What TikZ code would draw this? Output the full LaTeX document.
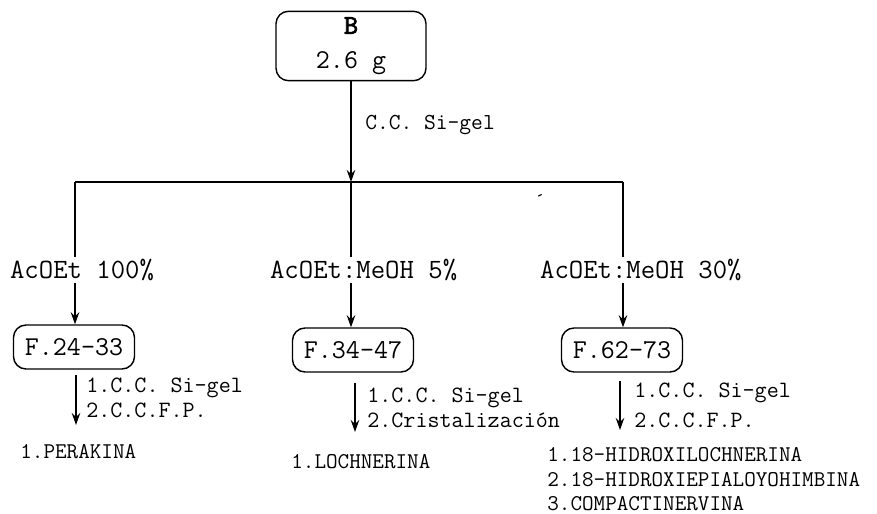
\documentclass[tikz,border=0pt]{standalone}
\usepackage{fontspec}
\newfontfamily\ttbold[FakeBold=2.5]{lmmono10-regular.otf}
\usepackage{tikz}
\usetikzlibrary{positioning,calc,arrows.meta}

\tikzset{
    every node/.append style={font=\ttfamily},
    frac/.style={draw, rounded corners=2.5mm, line width=0.8pt, minimum width=2.42cm, minimum height=0.88cm, inner sep=0pt, font=\ttfamily\fontsize{15.5}{18}\selectfont},
    solv/.style={fill=white, inner sep=1pt, anchor=west, font=\ttfamily\fontsize{15.9}{18}\selectfont},
    proc/.style={anchor=west, inner sep=0pt, align=left, font=\ttfamily\fontsize{13.3}{15}\selectfont},
    prod/.style={anchor=west, inner sep=0pt, font=\ttfamily\fontsize{12.8}{14}\selectfont},
    flow/.style={line width=0.8pt, -{Stealth[length=2.4mm, width=1.7mm]}},
}

\begin{document}
\begin{tikzpicture}
    \useasboundingbox (0,0) rectangle (17.54,-10.28);

    % starting extract
    \node[draw, rounded corners=2.5mm, line width=0.8pt, minimum width=3cm, minimum height=1.36cm, align=center,
          font=\ttfamily\fontsize{15.5}{19.8}\selectfont] (ext) at (7.02,-0.92) {{\ttbold B}\\2.6 g};

    % column + split bar
    \coordinate (jc) at (7.02,-3.64);
    \coordinate (j1) at (1.5,-3.64);
    \coordinate (j3) at (12.46,-3.64);
    \draw[flow] (ext) -- (jc);
    \node[proc, font=\ttfamily\fontsize{13}{15}\selectfont] (cc) at (7.3,-2.5) {C.C. Si-gel};
    \draw[line width=0.8pt] (j1) -- (j3);
    \node[font=\ttfamily\fontsize{11}{11}\selectfont, inner sep=0pt] (acc) at (10.8,-4.0) {´};

    % fractions
    \node[frac] (f1) at (1.48,-6.94) {F.24-33};
    \node[frac] (f2) at (7.06,-7.0) {F.34-47};
    \node[frac] (f3) at (12.44,-7.0) {F.62-73};
    \draw[flow] (j1) -- (j1 |- f1.north);
    \draw[flow] (jc) -- (jc |- f2.north);
    \draw[flow] (j3) -- (j3 |- f3.north);

    % eluents (over the lines)
    \node[solv] (e1) at (0.16,-5.4) {AcOEt 100\%};
    \node[solv] (e2) at (5.36,-5.4) {AcOEt:MeOH 5\%};
    \node[solv] (e3) at (10.76,-5.4) {AcOEt:MeOH 30\%};

    % purification steps
    \coordinate (p1) at (1.52,-8.5);
    \coordinate (p2) at (7.1,-8.64);
    \coordinate (p3) at (12.4,-8.6);
    \draw[flow] ([yshift=-1mm]p1 |- f1.south) -- (p1);
    \draw[flow] ([yshift=-2mm]p2 |- f2.south) -- (p2);
    \draw[flow] ([yshift=-1.6mm]p3 |- f3.south) -- (p3);
    \node[proc] (s1a) at (1.72,-7.76) {1.C.C. Si-gel};
    \node[proc] (s1b) at (1.72,-8.2) {2.C.C.F.P.};
    \node[proc] (s2a) at (7.34,-7.96) {1.C.C. Si-gel};
    \node[proc] (s2b) at (7.34,-8.4) {2.Cristalización};
    \node[proc] (s3a) at (12.68,-7.86) {1.C.C. Si-gel};
    \node[proc] (s3b) at (12.68,-8.4) {2.C.C.F.P.};

    % isolated alkaloids
    \node[prod] (r1) at (0.4,-9.04) {1.PERAKINA};
    \node[prod] (r2) at (5.82,-9.24) {1.LOCHNERINA};
    \node[prod] (r3) at (10.94,-9.1) {1.18-HIDROXILOCHNERINA};
    \node[prod] (r4) at (10.94,-9.6) {2.18-HIDROXIEPIALOYOHIMBINA};
    \node[prod] (r5) at (10.94,-10.08) {3.COMPACTINERVINA};
\end{tikzpicture}
\end{document}
